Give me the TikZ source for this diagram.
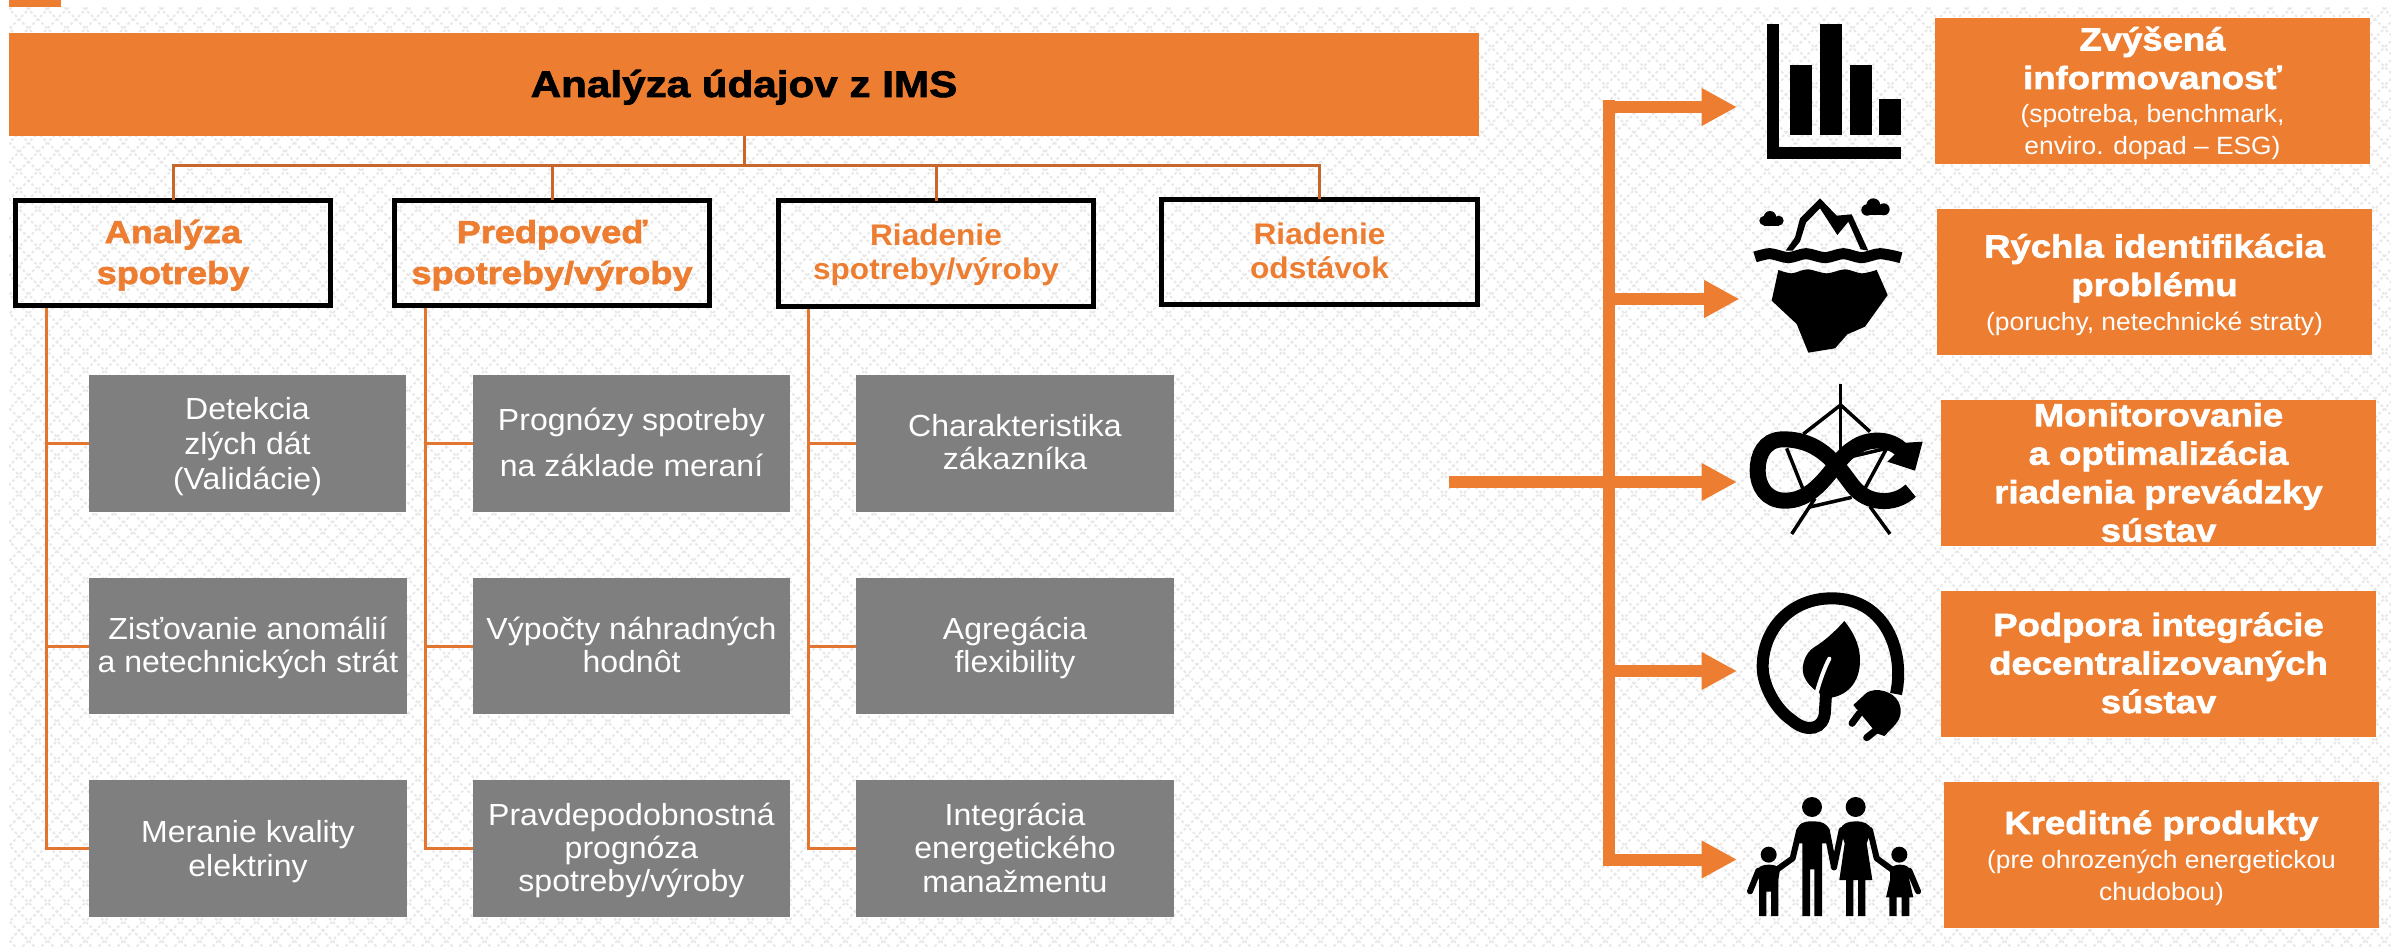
\documentclass[tikz,border=0pt]{standalone}
\usepackage{fontspec}
\usetikzlibrary{arrows.meta}
\newfontfamily\fgray[FakeStretch=1.05]{Liberation Sans}
\newfontfamily\fsub[FakeStretch=1.055]{Liberation Sans}
\newfontfamily\fheavy[UprightFont=* Bold,FakeStretch=1.14,FakeBold=2]{Liberation Sans}
\newfontfamily\fbold[UprightFont=* Bold,FakeStretch=1.06]{Liberation Sans}
\definecolor{org}{HTML}{ED7D31}
\definecolor{orgd}{HTML}{C8672B}
\definecolor{orgl}{HTML}{E2752F}
\definecolor{gry}{HTML}{7F7F7F}
\definecolor{lat}{HTML}{E8E8E8}
\tikzset{
  boxbase/.style={inner sep=0pt,outer sep=0pt},
  graybox/.style={boxbase,fill=gry},
  catbox/.style={boxbase,draw=black,line width=5pt},
  orgbox/.style={boxbase,fill=org},
  txt/.style={inner sep=0pt,outer sep=0pt,anchor=base,align=center},
  busline/.style={draw=orgd,line width=3pt},
  treeline/.style={draw=orgl,line width=3pt},
  bigline/.style={draw=org,line width=12pt},
  bigarrow/.style={draw=org,line width=12pt,-{Triangle[length=35.5pt,width=35.5pt]}},
  latline/.style={draw=lat,line width=2pt,dash pattern=on 2.8pt off 2.5pt},
}
% name x0 y0 x1 y1 last-baseline skip text
\newcommand{\grayitem}[8]{%
  \node[graybox,minimum width={(#4-#2)*1pt},minimum height={(#5-#3)*1pt}] (#1) at ({(#2+#4)/2},{(#3+#5)/2}) {};
  \node[txt,white,font=\fgray\fontsize{30.5}{#7}\selectfont] (#1t) at ({(#2+#4)/2},#6) {#8};
}
\newcommand{\orgitem}[7]{%
  \node[orgbox,minimum width={(#4-#2)*1pt},minimum height={(#5-#3)*1pt}] (#1) at ({(#2+#4)/2},{(#3+#5)/2}) {};
  \node[txt,white,font=\fheavy\fontsize{32}{38.5}\selectfont] (#1t) at ({(#2+#4)/2},#6) {#7};
}
\newcommand{\subtxt}[1]{{\fsub\fontsize{25}{38.5}\selectfont #1}}
\begin{document}
\begin{tikzpicture}[x=1pt,y=-1pt]
\useasboundingbox (0,0) rectangle (2391,952);
\fill[white] (0,0) rectangle (2391,952);
% lattice background
\begin{scope}
  \clip (9,7) rectangle (2391,947);
  \foreach \k in {-51,...,126} {
    \draw[latline] (\k*19,0) -- ++(960,960);
  }
  \foreach \k in {0,...,177} {
    \draw[latline] (\k*19,0) -- ++(-960,960);
  }
\end{scope}
\fill[org] (9,0) rectangle (61,7);

% title
\node[orgbox,minimum width=1470pt,minimum height=103pt] (title) at (744,84.5) {};
\node[txt,black,font=\fheavy\fontsize{37}{40}\selectfont] (titlet) at (744,97) {Analýza údajov z IMS};

% category boxes
\node[catbox,minimum width=315pt,minimum height=105pt] (A) at (173,253) {};
\node[catbox,minimum width=315pt,minimum height=105pt] (B) at (552,253) {};
\node[catbox,minimum width=315.5pt,minimum height=105.5pt] (C) at (936,253.4) {};
\node[catbox,minimum width=316pt,minimum height=105pt] (D) at (1319.5,252) {};
\node[txt,org,font=\fheavy\fontsize{31.7}{41}\selectfont] (At) at (173,284) {Analýza\\spotreby};
\node[txt,org,font=\fheavy\fontsize{31.7}{41}\selectfont] (Bt) at (552,284) {Predpoveď\\spotreby/výroby};
\node[txt,org,font=\fbold\fontsize{29.8}{34}\selectfont] (Ct) at (936,279.3) {Riadenie\\spotreby/výroby};
\node[txt,org,font=\fbold\fontsize{29.8}{34}\selectfont] (Dt) at (1319.5,278) {Riadenie\\odstávok};

% bus
\coordinate (bus) at (744,166);
\draw[busline] (title.south) -- (bus);
\draw[busline] (A.north) |- (bus);
\draw[busline] (B.north) |- (bus);
\draw[busline] (C.north) |- (bus);
\draw[busline] (D.north) |- (bus);

% gray items
\grayitem{g11}{89}{375}{406}{512}{489}{35}{Detekcia\\zlých dát\\(Validácie)}
\grayitem{g12}{89}{578}{407}{714}{672.5}{33.5}{Zisťovanie anomálií\\a netechnických strát}
\grayitem{g13}{89}{780}{407}{917}{876}{34}{Meranie kvality\\elektriny}
\grayitem{g21}{473}{375}{790}{512}{476.7}{46.5}{Prognózy spotreby\\na základe meraní}
\grayitem{g22}{473}{578}{790}{714}{672.5}{33.5}{Výpočty náhradných\\hodnôt}
\grayitem{g23}{473}{780}{790}{917}{891}{33}{Pravdepodobnostná\\prognóza\\spotreby/výroby}
\grayitem{g31}{856}{375}{1174}{512}{469.7}{33}{Charakteristika\\zákazníka}
\grayitem{g32}{856}{578}{1174}{714}{672.5}{33.5}{Agregácia\\flexibility}
\grayitem{g33}{856}{780}{1174}{917}{892}{33.5}{Integrácia\\energetického\\manažmentu}

% trees
\coordinate (tA) at (46,308);
\coordinate (tB) at (425,308);
\coordinate (tC) at (808.7,308.7);
\draw[treeline] (tA) |- (g13.west);
\draw[treeline] (tA |- g11.west) -- (g11.west);
\draw[treeline] (tA |- g12.west) -- (g12.west);
\draw[treeline] (tB) |- (g23.west);
\draw[treeline] (tB |- g21.west) -- (g21.west);
\draw[treeline] (tB |- g22.west) -- (g22.west);
\draw[treeline] (tC) |- (g33.west);
\draw[treeline] (tC |- g31.west) -- (g31.west);
\draw[treeline] (tC |- g32.west) -- (g32.west);

% right boxes
\orgitem{r1}{1935}{18}{2370}{164}{155}{Zvýšená\\informovanosť\\[-4.8pt]\subtxt{(spotreba, benchmark,}\\[-6.2pt]\subtxt{enviro. dopad – ESG)}}
\orgitem{r2}{1937}{209}{2372}{355}{330}{Rýchla identifikácia\\problému\\[-4.5pt]\subtxt{(poruchy, netechnické straty)}}
\orgitem{r3}{1941}{400}{2376}{546}{541.7}{Monitorovanie\\a optimalizácia\\riadenia prevádzky\\sústav}
\orgitem{r4}{1941}{591}{2376}{737}{713}{Podpora integrácie\\decentralizovaných\\sústav}
\orgitem{r5}{1944}{782}{2379}{928}{900}{Kreditné produkty\\[-4.5pt]\subtxt{(pre ohrozených energetickou}\\[-6.5pt]\subtxt{chudobou)}}

% big arrows
\coordinate (trT) at (1609,100);
\coordinate (trB) at (1609,866);
\coordinate (inL) at (1449,482);
\coordinate (tip1) at (1737,107);
\coordinate (tip2) at (1739.5,299);
\coordinate (tip3) at (1737,482);
\coordinate (tip4) at (1737,671);
\coordinate (tip5) at (1737,859.5);
\draw[bigline] (trT) -- (trB);
\draw[bigarrow] (trT |- tip1) -- (tip1);
\draw[bigarrow] (trT |- tip2) -- (tip2);
\draw[bigarrow] (inL) -- (tip3);
\draw[bigarrow] (trT |- tip4) -- (tip4);
\draw[bigarrow] (trT |- tip5) -- (tip5);

% icon 1: chart
\fill[black] (1766.7,24) rectangle (1778.7,158.7);
\fill[black] (1766.7,146.7) rectangle (1901,158.7);
\fill[black] (1790,65) rectangle (1812,135);
\fill[black] (1820,24) rectangle (1842,135);
\fill[black] (1850,65) rectangle (1872,135);
\fill[black] (1879,99) rectangle (1901,135);

% icon 2: iceberg
\begin{scope}[shift={(1720,180)},x=0.33333pt,y=-0.33333pt]
  \fill[black] (132,122) circle[radius=4.7pt];
  \fill[black] (150,112) circle[radius=6.3pt];
  \fill[black] (176,122) circle[radius=5pt];
  \fill[black] (132,120) rectangle (178,137);
  \fill[black] (441,90) circle[radius=5.7pt];
  \fill[black] (460,76) circle[radius=7pt];
  \fill[black] (491,88) circle[radius=6pt];
  \fill[black] (441,85) rectangle (491,106);
  \fill[black] (197,212) -- (225,172) -- (240,115) -- (300,55) -- (350,107) -- (395,103) -- (445,212) -- (422,208) -- (385,125) -- (352,165) -- (300,85) -- (258,128) -- (240,185) -- (218,212) -- cycle;
  \draw[black,line width=11pt] plot[smooth] coordinates {(105,231)(150,221)(205,233)(258,221)(315,233)(370,221)(425,233)(480,221)(543,233)};
  \fill[black] plot[smooth] coordinates {(175,270)(215,280)(262,268)(320,280)(375,268)(425,280)(470,270)} -- (503,345) -- (435,440) -- (382,463) -- (345,505) -- (265,518) -- (230,432) -- (155,362) -- cycle;
\end{scope}

% icon 3: infinity
\begin{scope}[shift={(1720,370)},x=0.33333pt,y=-0.33333pt]
  \draw[black,line width=3.5pt] (362,42) -- (362,260);
  \draw[black,line width=3.5pt] (250,192) -- (362,105) -- (450,185);
  \draw[black,line width=3.5pt] (200,235) -- (250,360);
  \draw[black,line width=3.5pt] (215,492) -- (285,385);
  \draw[black,line width=3.5pt] (265,412) -- (395,382);
  \draw[black,line width=3.5pt] (510,492) -- (450,410);
  \draw[black,line width=3.5pt] (500,235) -- (435,355);
  \draw[black,line width=3.5pt] (385,262) -- (500,235);
  \draw[black,line width=16pt] (572,362) .. controls (520,410) and (440,400) .. (400,350) .. controls (360,300) and (310,208) .. (190,208) .. controls (130,208) and (113,260) .. (113,300) .. controls (113,350) and (140,392) .. (195,392) .. controls (300,392) and (340,270) .. (400,235) .. controls (440,205) and (510,200) .. (550,245);
  \fill[black] (502,275) -- (560,218) -- (608,215) -- (585,302) -- cycle;
\end{scope}

% icon 4: leaf + plug
\begin{scope}[shift={(1720,570)},x=0.33333pt,y=-0.33333pt]
  \fill[black] (373,153) .. controls (340,190) and (310,215) .. (285,230) .. controls (250,250) and (240,300) .. (255,325) .. controls (262,340) and (275,352) .. (287,362) -- (320,385) .. controls (380,380) and (420,340) .. (420,270) .. controls (420,220) and (395,180) .. (373,153) -- cycle;
  \draw[white,line width=4pt,line cap=round] (288,375) .. controls (300,330) and (315,290) .. (328,266);
  \draw[black,line width=12pt] (528,372) .. controls (555,250) and (500,85) .. (335,85) .. controls (210,85) and (128,180) .. (128,290) .. controls (128,350) and (170,420) .. (215,450) .. controls (260,490) and (315,480) .. (315,420) -- (318,372);
  \fill[black] (400,405) -- (440,368) .. controls (470,350) and (520,365) .. (535,395) .. controls (550,425) and (540,450) .. (520,470) -- (493,498) -- (470,490) -- cycle;
  \draw[black,line width=7pt,line cap=round] (418,430) -- (396,460);
  \draw[black,line width=7pt,line cap=round] (475,475) -- (440,503);
\end{scope}

% icon 5: family
\begin{scope}[shift={(1720,780)},x=0.33333pt,y=-0.33333pt]
  \fill[black] (276,81) circle[radius=10pt];
  \fill[black] (407,81) circle[radius=10pt];
  \fill[black] (146,224) circle[radius=8pt];
  \fill[black] (538,224) circle[radius=8pt];
  % father
  \fill[black] (232,150) .. controls (234,130) and (250,124) .. (276,124) .. controls (305,124) and (322,130) .. (328,150) -- (328,190) -- (306,190) -- (306,408) -- (283,408) -- (283,268) -- (270,268) -- (270,408) -- (247,408) -- (247,190) -- (232,190) -- cycle;
  \draw[black,line width=6pt,line cap=round,line join=round] (238,150) -- (218,235) -- (172,268);
  \draw[black,line width=6pt,line cap=round,line join=round] (320,150) -- (342,262);
  % mother
  \fill[black] (360,150) .. controls (366,130) and (385,124) .. (407,124) .. controls (430,124) and (448,130) .. (455,150) -- (440,190) -- (457,300) -- (436,300) -- (436,408) -- (414,408) -- (414,300) -- (400,300) -- (400,408) -- (378,408) -- (378,300) -- (358,300) -- (374,190) -- cycle;
  \draw[black,line width=6pt,line cap=round,line join=round] (365,150) -- (342,262);
  \draw[black,line width=6pt,line cap=round,line join=round] (450,150) -- (470,235) -- (515,268);
  % son
  \fill[black] (108,275) .. controls (115,258) and (130,254) .. (146,254) .. controls (160,254) and (172,256) .. (180,268) -- (175,300) -- (175,408) -- (153,408) -- (153,335) -- (139,335) -- (139,408) -- (117,408) -- (117,300) -- cycle;
  \draw[black,line width=6pt,line cap=round,line join=round] (115,272) -- (90,334);
  % daughter
  \fill[black] (510,268) .. controls (518,256) and (530,254) .. (540,254) .. controls (555,254) and (566,258) .. (575,275) -- (568,300) -- (580,352) -- (568,352) -- (568,408) -- (545,408) -- (545,352) -- (530,352) -- (530,408) -- (508,408) -- (508,352) -- (498,352) -- (510,300) -- cycle;
  \draw[black,line width=6pt,line cap=round,line join=round] (568,272) -- (594,334);
\end{scope}
\end{tikzpicture}
\end{document}
